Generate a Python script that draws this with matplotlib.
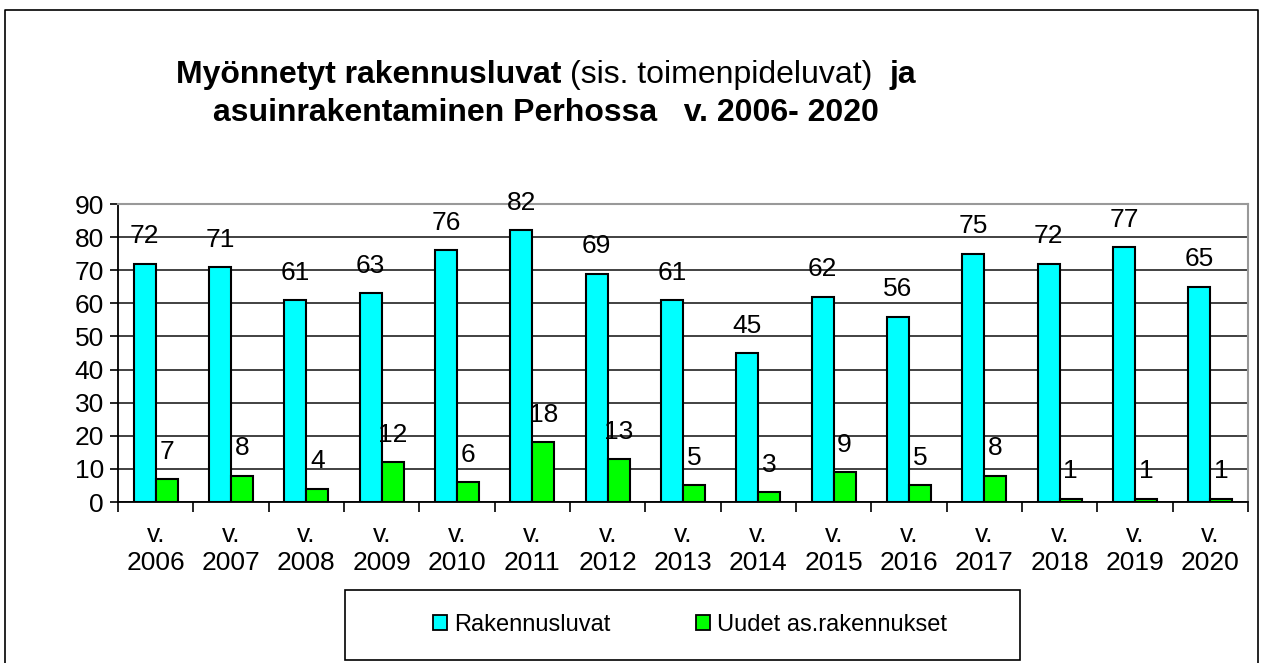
import matplotlib
matplotlib.use("Agg")
import matplotlib.pyplot as plt
import numpy as np
from matplotlib.patches import Rectangle, Patch
from matplotlib.lines import Line2D

# Data
years = ["2006", "2007", "2008", "2009", "2010", "2011", "2012", "2013",
         "2014", "2015", "2016", "2017", "2018", "2019", "2020"]
rakennusluvat = [72, 71, 61, 63, 76, 82, 69, 61, 45, 62, 56, 75, 72, 77, 65]
uudet = [7, 8, 4, 12, 6, 18, 13, 5, 3, 9, 5, 8, 1, 1, 1]
series_names = ["Rakennusluvat", "Uudet as.rakennukset"]
colors = ["#00FFFF", "#00FF00"]

W, H = 1263, 663
plt.rcParams["font.family"] = ["Liberation Sans", "DejaVu Sans"]

fig = plt.figure(figsize=(W / 100, H / 100), dpi=100)
ax = fig.add_axes([118 / W, 1 - 502 / H, (1248 - 118) / W, (502 - 204) / H])

x = np.arange(len(years))
bw = 0.29
b1 = ax.bar(x - bw / 2, rakennusluvat, bw, color=colors[0], edgecolor="black", linewidth=1.5, zorder=3)
b2 = ax.bar(x + bw / 2, uudet, bw, color=colors[1], edgecolor="black", linewidth=1.5, zorder=3)
ax.bar_label(b1, padding=11, fontsize=19)
ax.bar_label(b2, padding=11, fontsize=19)

ax.set_ylim(0, 90)
ax.set_xlim(-0.5, len(years) - 0.5)
ax.set_yticks(range(0, 91, 10))
ax.set_xticks(x)
ax.set_xticklabels(["v.\n" + y for y in years], linespacing=1.2)
ax.set_xticks(np.arange(-0.5, len(years), 1), minor=True)
ax.tick_params(axis="x", which="major", length=0, labelsize=19, pad=15)
ax.tick_params(axis="x", which="minor", length=7, width=1.2, direction="out")
ax.tick_params(axis="y", length=6, width=1.2, labelsize=19, pad=4)
ax.yaxis.grid(True, color="#333333", linewidth=1.3, zorder=0)
ax.set_axisbelow(True)
for s in ["top", "right"]:
    ax.spines[s].set_color("#999999")
    ax.spines[s].set_linewidth(1.5)
for s in ["left", "bottom"]:
    ax.spines[s].set_color("black")
    ax.spines[s].set_linewidth(1.3)

# Title with mixed weights, each line centred
renderer = fig.canvas.get_renderer()


def draw_line(parts, cx, y, size):
    texts = [fig.text(0, 1 - y / H, txt, fontsize=size, fontweight=weight,
                      ha="left", va="baseline") for txt, weight in parts]
    widths = [t.get_window_extent(renderer).width for t in texts]
    xpos = cx - sum(widths) / 2
    for t, w in zip(texts, widths):
        t.set_x(xpos / W)
        xpos += w


draw_line([("Myönnetyt rakennusluvat ", "bold"), ("(sis. toimenpideluvat)  ", "normal"), ("ja", "bold")],
          546, 83, 23)
draw_line([("asuinrakentaminen Perhossa   v. 2006- 2020", "bold")], 546, 121, 23)

# Outer border
fig.add_artist(Line2D([5 / W, 5 / W, 1258 / W, 1258 / W], [0, 1 - 10 / H, 1 - 10 / H, 0],
                      transform=fig.transFigure, color="black", linewidth=1.2))

# Legend box
fig.add_artist(Rectangle((345 / W, 1 - 660 / H), (1020 - 345) / W, 70 / H, transform=fig.transFigure,
                         facecolor="white", edgecolor="black", linewidth=1.2))
handles = [Patch(facecolor=c, edgecolor="black", linewidth=1.3) for c in colors]
fig.legend(handles, series_names, loc="center", bbox_to_anchor=(690 / W, 1 - 625 / H), ncol=2,
           frameon=False, prop={"size": 17}, handlelength=0.6, handleheight=0.6,
           handletextpad=0.3, columnspacing=3.6)

fig.savefig("out.png", dpi=100)
